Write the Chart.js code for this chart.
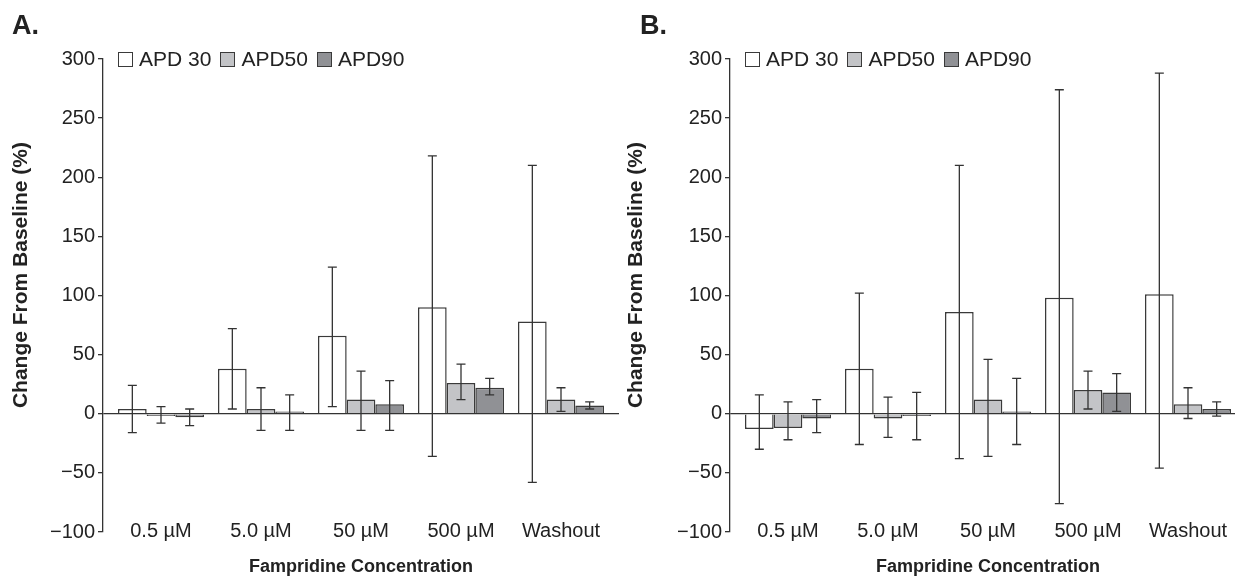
<!DOCTYPE html>
<html>
<head>
<meta charset="utf-8">
<script src="https://cdn.jsdelivr.net/npm/chart.js@4.4.1/dist/chart.umd.min.js"></script>
<style>
  body { margin: 0; background: #fff; width: 1235px; height: 584px; position: relative; overflow: hidden; font-family: "Liberation Sans", Arial, sans-serif; color: #222; }
  .panel { position: absolute; top: 0; height: 584px; }
  .tag { position: absolute; top: 12px; font-weight: bold; font-size: 27px; line-height: 1; }
  .legend { position: absolute; top: 48px; font-size: 21px; line-height: 22px; display: flex; align-items: center; white-space: nowrap; }
  .legend .box { width: 15px; height: 15px; border: 1.5px solid #3a3a3a; box-sizing: border-box; margin-right: 6px; }
  .legend .lbl { margin-right: 9px; }
</style>
</head>
<body>
<div class="panel" id="panelA" style="left:0;width:622px">
  <canvas id="chartA" width="622" height="584"></canvas>
  <div class="tag" style="left:12px">A.</div>
  <div class="legend" style="left:118px"></div>
</div>
<div class="panel" id="panelB" style="left:615px;width:632px">
  <canvas id="chartB" width="632" height="584"></canvas>
  <div class="tag" style="left:25px">B.</div>
  <div class="legend" style="left:130px"></div>
</div>
<script>
const categories = ["0.5 µM", "5.0 µM", "50 µM", "500 µM", "Washout"];
const seriesNames = ["APD 30", "APD50", "APD90"];
const seriesColors = ["#ffffff", "#c3c4c7", "#909195"];

// panel A: means and error bar ends
const apd30A = [4, 38, 66, 90, 78];
const apd30ALow = [-16, 4, 6, -36, -58];
const apd30AHigh = [24, 72, 124, 218, 210];
const apd50A = [-2, 4, 12, 26, 12];
const apd50ALow = [-8, -14, -14, 12, 2];
const apd50AHigh = [6, 22, 36, 42, 22];
const apd90A = [-3, 2, 8, 22, 7];
const apd90ALow = [-10, -14, -14, 16, 4];
const apd90AHigh = [4, 16, 28, 30, 10];

// panel B
const apd30B = [-13, 38, 86, 98, 101];
const apd30BLow = [-30, -26, -38, -76, -46];
const apd30BHigh = [16, 102, 210, 274, 288];
const apd50B = [-12, -4, 12, 20, 8];
const apd50BLow = [-22, -20, -36, 4, -4];
const apd50BHigh = [10, 14, 46, 36, 22];
const apd90B = [-4, -2, 2, 18, 4];
const apd90BLow = [-16, -22, -26, 2, -2];
const apd90BHigh = [12, 18, 30, 34, 10];

const yTicks = [-100, -50, 0, 50, 100, 150, 200, 250, 300];

Chart.defaults.font.family = "'Liberation Sans', Arial, sans-serif";
Chart.defaults.color = "#222";

const errorBars = {
  id: "errorBars",
  afterDatasetsDraw(chart) {
    const ctx = chart.ctx;
    const y = chart.scales.y;
    ctx.save();
    ctx.strokeStyle = "#333";
    ctx.lineWidth = 1.3;
    chart.data.datasets.forEach((ds, i) => {
      const meta = chart.getDatasetMeta(i);
      meta.data.forEach((bar, j) => {
        const top = y.getPixelForValue(ds.high[j]);
        const bot = y.getPixelForValue(ds.low[j]);
        const cap = 4.5;
        ctx.beginPath();
        ctx.moveTo(bar.x, top); ctx.lineTo(bar.x, bot);
        ctx.moveTo(bar.x - cap, top); ctx.lineTo(bar.x + cap, top);
        ctx.moveTo(bar.x - cap, bot); ctx.lineTo(bar.x + cap, bot);
        ctx.stroke();
      });
    });
    ctx.restore();
  }
};

function makeChart(id, means, lows, highs, axisWidth, padRight) {
  const datasets = seriesNames.map((name, k) => ({
    label: name,
    data: means[k].map((v, i) => ({ x: i, y: v })),
    low: lows[k],
    high: highs[k],
    backgroundColor: seriesColors[k],
    borderColor: "#3a3a3a",
    borderWidth: 1.5,
    categoryPercentage: 0.86,
    barPercentage: 1
  }));
  return new Chart(document.getElementById(id), {
    type: "bar",
    data: { datasets: datasets },
    plugins: [errorBars],
    options: {
      responsive: false,
      animation: false,
      layout: { padding: { top: 59, right: padRight, bottom: 0, left: 0 } },
      plugins: { legend: { display: false }, tooltip: { enabled: false } },
      scales: {
        x: {
          type: "linear",
          // a bit of room either side of the groups, as in the original
          min: -0.58,
          max: 4.58,
          offset: false,
          afterBuildTicks(scale) { scale.ticks = categories.map((c, i) => ({ value: i })); },
          grid: { display: false },
          border: { display: false },
          // mirrored so the labels can sit level with the -100 tick without clipping
          ticks: { mirror: true, padding: -11, font: { size: 20 }, color: "#222", maxRotation: 0, callback: v => categories[v] },
          title: { display: true, text: "Fampridine Concentration", font: { size: 18, weight: "bold" }, color: "#222", padding: { top: 0, bottom: 6 } },
          afterFit(scale) { scale.height = 52; }
        },
        y: {
          min: -100,
          max: 300,
          afterBuildTicks(scale) { scale.ticks = yTicks.map(v => ({ value: v })); },
          ticks: {
            padding: 3,
            font: { size: 20 },
            color: "#222",
            callback: v => String(v).replace("-", "\u2212")
          },
          grid: {
            color: c => (c.tick && c.tick.value === 0 ? "#333" : "rgba(0,0,0,0)"),
            lineWidth: 1.3,
            tickColor: "#333",
            tickLength: 5
          },
          border: { display: true, color: "#333", width: 1.3 },
          // leading spaces lift the label a little, like the original
          title: { display: true, text: "       Change From Baseline (%)", font: { size: 21, weight: "bold" }, color: "#222", padding: { top: 9, bottom: 0 } },
          afterFit(scale) { scale.width = axisWidth; }
        }
      }
    }
  });
}

function fillLegend(panelId) {
  const box = document.querySelector("#" + panelId + " .legend");
  seriesNames.forEach((name, k) => {
    const sw = document.createElement("span");
    sw.className = "box";
    sw.style.background = seriesColors[k];
    const lb = document.createElement("span");
    lb.className = "lbl";
    lb.textContent = name;
    box.appendChild(sw);
    box.appendChild(lb);
  });
}

makeChart("chartA", [apd30A, apd50A, apd90A], [apd30ALow, apd50ALow, apd90ALow], [apd30AHigh, apd50AHigh, apd90AHigh], 103, 3);
makeChart("chartB", [apd30B, apd50B, apd90B], [apd30BLow, apd50BLow, apd90BLow], [apd30BHigh, apd50BHigh, apd90BHigh], 115, 1);
fillLegend("panelA");
fillLegend("panelB");
</script>
</body>
</html>
